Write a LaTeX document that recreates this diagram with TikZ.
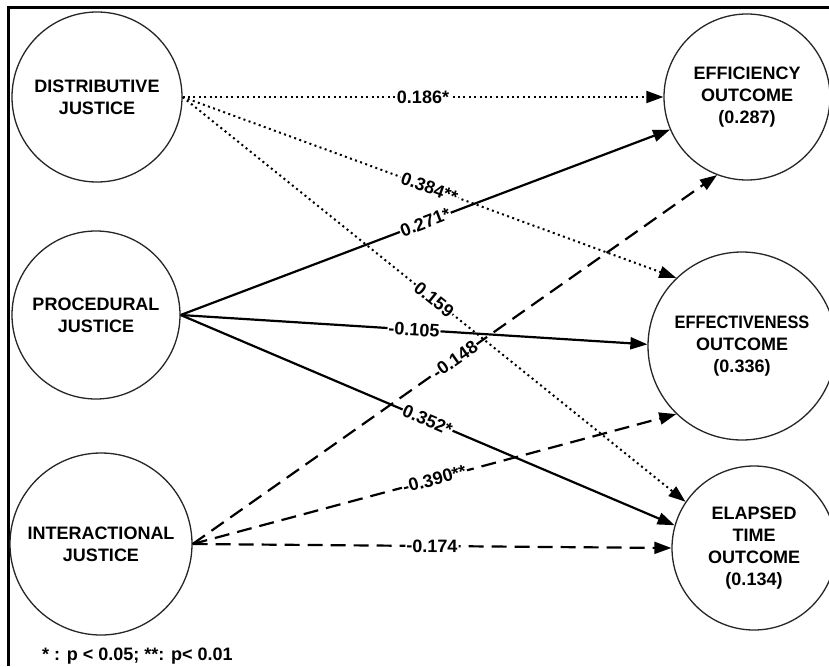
\documentclass[tikz,border=0pt]{standalone}
\usepackage{fontspec}
\setmainfont{Liberation Sans}
\usetikzlibrary{arrows.meta}
\begin{document}
\begin{tikzpicture}[x=1pt,y=-1pt,
  latent/.style={circle,draw=black!85,line width=1.3pt,inner sep=0pt,align=center,
    font=\fontsize{18}{22}\selectfont\bfseries},
  arr/.style={line width=2.2pt,-{Triangle[length=17pt,width=12pt]}},
  dotline/.style={arr,line width=2pt,dash pattern=on 2pt off 3.4pt},
  dashline/.style={arr,dash pattern=on 15pt off 8pt},
  coef/.style={midway,sloped,fill=white,inner sep=1pt,
    font=\fontsize{18}{18}\selectfont\bfseries},
]
\useasboundingbox (0,0) rectangle (829,666);
\fill[white] (0,0) rectangle (829,666);
\draw[line width=3pt,line join=miter] (8,666) -- (8,8) -- (829,8);

\node[latent,minimum size=170pt] (dj) at (97,97) {DISTRIBUTIVE\\JUSTICE};
\node[latent,minimum size=168pt] (pj) at (96,315) {PROCEDURAL\\JUSTICE};
\node[latent,minimum size=182pt] (ij) at (101,544) {INTERACTIONAL\\JUSTICE};
\node[latent,minimum size=166pt] (eo) at (747,97) {EFFICIENCY\\OUTCOME\\(0.287)};
\node[latent,minimum size=188pt] (ev) at (742,346) {\scalebox{0.91}[1]{EFFECTIVENESS}\\OUTCOME\\(0.336)};
\node[latent,minimum size=164pt] (et) at (754,548) {ELAPSED\\TIME\\OUTCOME\\(0.134)};

\draw[dotline] (dj.east) -- node[coef]{0.186*} (eo.180);
\draw[dotline] (dj.east) -- node[coef]{0.384**} (ev.134);
\draw[dotline] (dj.east) -- node[coef]{0.159} (et.146);
\draw[arr] (pj.east) -- node[coef]{0.271*} (eo.203);
\draw[arr] (pj.east) -- node[coef]{-0.105} (ev.179);
\draw[arr] (pj.east) -- node[coef]{0.352*} (et.164);
\draw[dashline] (ij.east) -- node[coef]{-0.148} (eo.249);
\draw[dashline] (ij.east) -- node[coef]{-0.390**} (ev.226);
\draw[dashline] (ij.east) -- node[coef]{-0.174} (et.180);

\node[anchor=west,inner sep=0pt,font=\fontsize{18}{18}\selectfont\bfseries] (note) at (42,656) {* : p < 0.05; **: p< 0.01};
\end{tikzpicture}
\end{document}
